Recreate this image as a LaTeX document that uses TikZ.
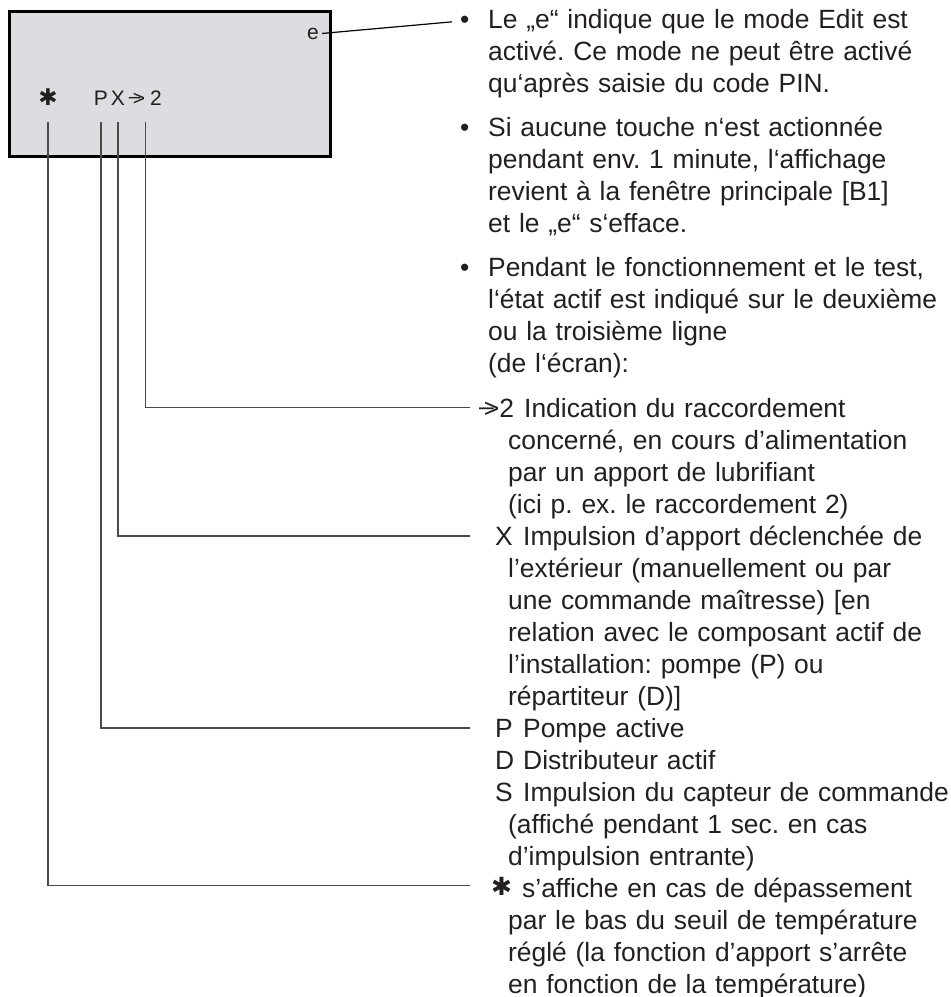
\documentclass[tikz,border=0pt]{standalone}
\usepackage{fontspec}
\setmainfont{Liberation Sans}
\newfontfamily\symfont{DejaVu Sans}
\usetikzlibrary{positioning}
\definecolor{lcdgray}{RGB}{220,221,224}
\definecolor{inkgray}{RGB}{35,31,32}
\definecolor{leadgray}{RGB}{75,75,75}
\frenchspacing
\newcommand{\feedarrow}{\mbox{\raisebox{0.06em}{\rlap{–}}\kern0.18em>}}

\begin{document}
\begin{tikzpicture}[x=1pt, y=-1pt,
  every node/.style={inner sep=0pt, text=inkgray},
  lcdchar/.style={anchor=base, font=\fontsize{21}{21}\selectfont},
  starchar/.style={font=\symfont\fontsize{23}{23}\selectfont},
  bodytext/.style={anchor=base west, text width=480pt, align=left,
    font=\fontsize{26.4}{32}\selectfont},
  tagtext/.style={anchor=base west, font=\fontsize{26.4}{32}\selectfont},
  lead/.style={line width=1.2pt, draw=leadgray}]
\useasboundingbox (0,0) rectangle (951,997);

% Display
\node[draw=black, line width=3.2pt, fill=lcdgray, minimum width=321pt,
  minimum height=145pt] (lcd) at (170,84) {};
\node[lcdchar] (de) at (313,39) {e};
\node[starchar] (dstar) at (48,97) {✱};
\node[lcdchar] (dP) at (101,105) {P};
\node[lcdchar] (dX) at (118,105) {X};
\node[lcdchar] (darrow) at (137,105) {\feedarrow};
\node[lcdchar] (dtwo) at (156,105) {2};
\coordinate (lcdrow) at (0,122);
\coordinate (leadend) at (470,0);

% Notes
\node[tagtext] (b1) at (460,28) {•};
\node[bodytext] (n1) at (488,28) {Le „e“ indique que le mode Edit est\\
  activé. Ce mode ne peut être activé\\qu‘après saisie du code PIN.};
\node[tagtext] (b2) at (460,136) {•};
\node[bodytext] (n2) at (488,136) {Si aucune touche n‘est actionnée\\
  pendant env. 1 minute, l‘affichage\\revient à la fenêtre principale [B1]\\
  et le „e“ s‘efface.};
\node[tagtext] (b3) at (460,276) {•};
\node[bodytext] (n3) at (488,276) {Pendant le fonctionnement et le test,\\
  l‘état actif est indiqué sur le deuxième\\ou la troisième ligne\\(de l‘écran):};

% Symbols
\node[tagtext] (tarrow) at (479,417) {\feedarrow 2};
\node[bodytext] (iarrow) at (508,417) {\hspace*{16pt}Indication du raccordement\\
  concerné, en cours d’alimentation\\par un apport de lubrifiant\\
  (ici p. ex. le raccordement 2)};
\node[tagtext] (tX) at (495,545) {X};
\node[bodytext] (iX) at (508,545) {\hspace*{15pt}Impulsion d’apport déclenchée de\\
  l’extérieur (manuellement ou par\\une commande maîtresse) [en\\
  relation avec le composant actif de\\l’installation: pompe (P) ou\\
  répartiteur (D)]};
\node[tagtext] (tP) at (495,737) {P};
\node[bodytext] (iP) at (508,737) {\hspace*{15pt}Pompe active};
\node[tagtext] (tD) at (495,769) {D};
\node[bodytext] (iD) at (508,769) {\hspace*{15pt}Distributeur actif};
\node[tagtext] (tS) at (495,801) {S};
\node[bodytext] (iS) at (508,801) {\hspace*{15pt}Impulsion du capteur de commande\\
  (affiché pendant 1 sec. en cas\\d’impulsion entrante)};
\node[starchar, anchor=base west, font=\symfont\fontsize{25}{25}\selectfont] (tstar) at (491,895) {✱};
\node[bodytext] (istar) at (508,897) {\hspace*{14pt}s’affiche en cas de dépassement\\
  par le bas du seuil de température\\réglé (la fonction d’apport s’arrête\\
  en fonction de la température)};

% Leads
\draw[line width=1.2pt, draw=black] ([xshift=3pt]de.east) -- ([xshift=-8pt]b1.west);
\draw[lead] (darrow.east |- lcdrow) -- (darrow.east |- tarrow) -- (leadend |- tarrow);
\draw[lead] (dX |- lcdrow) -- (dX |- tX) -- (leadend |- tX);
\draw[lead] (dP |- lcdrow) -- (dP |- tP) -- (leadend |- tP);
\draw[lead] (dstar |- lcdrow) -- (dstar |- tstar) -- (leadend |- tstar);
\end{tikzpicture}
\end{document}
